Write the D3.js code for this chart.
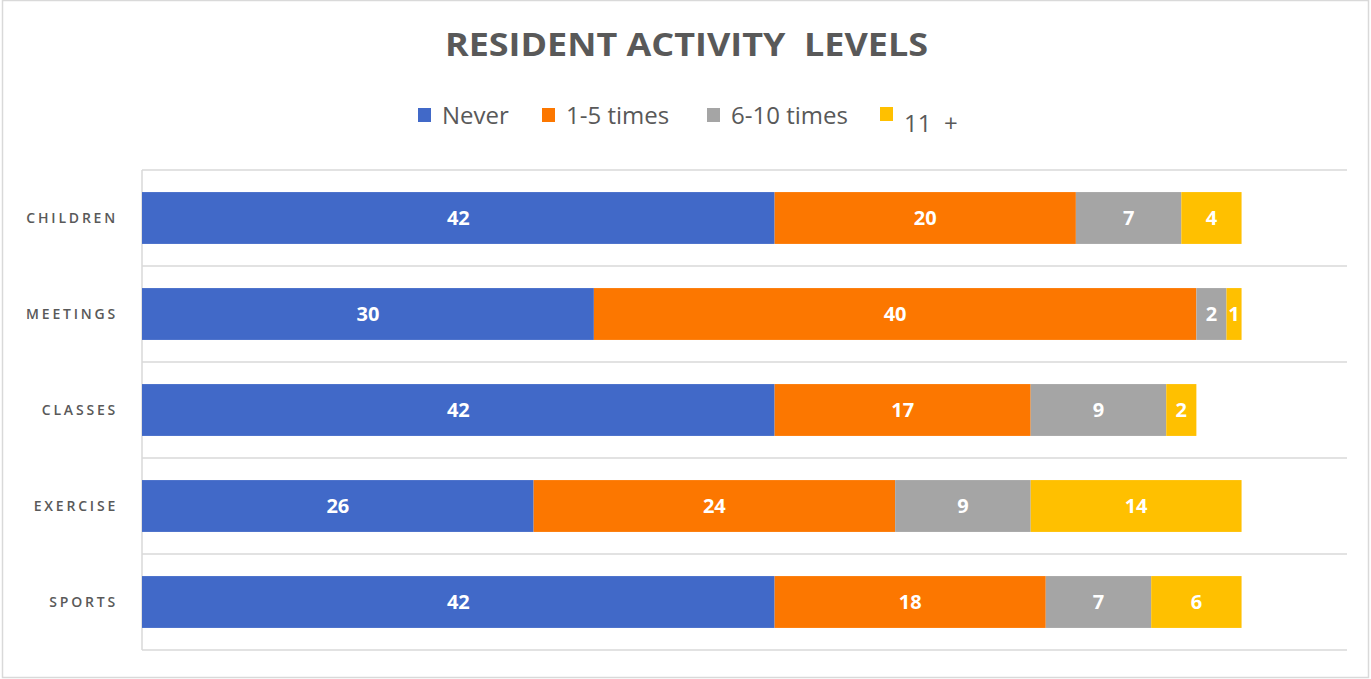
<!DOCTYPE html>
<html>
<head>
<meta charset="utf-8">
<script src="https://cdn.jsdelivr.net/npm/d3@7"></script>
<style>
  html, body { margin: 0; padding: 0; background: #fff; }
  svg { display: block; font-family: "Open Sans", "Noto Sans", sans-serif; }
</style>
</head>
<body>
<svg id="chart" width="1371" height="679"></svg>
<script>
// Resident activity levels, stacked horizontal bars
const categories = ['CHILDREN', 'MEETINGS', 'CLASSES', 'EXERCISE', 'SPORTS'];
const seriesNames = ['Never', '1-5 times', '6-10 times', '11  +'];
const never = [42, 30, 42, 26, 42];
const times1to5 = [20, 40, 17, 24, 18];
const times6to10 = [7, 2, 9, 9, 7];
const times11plus = [4, 1, 2, 14, 6];
const colors = ['#4169c8', '#fc7700', '#a5a5a5', '#ffc000'];

function renderChart() {
  const svg = d3.select('#chart');
  const width = 1371, height = 679;
  const margin = { top: 170, right: 24, bottom: 29, left: 142 };

  // outer chart frame
  svg.append('rect')
    .attr('x', 2.5).attr('y', 0.5)
    .attr('width', width - 5).attr('height', height - 2)
    .attr('fill', '#fff')
    .attr('stroke', '#d9d9d9')
    .attr('stroke-width', 1.5);

  const rows = categories.map((c, i) => ({
    cat: c,
    'Never': never[i],
    '1-5 times': times1to5[i],
    '6-10 times': times6to10[i],
    '11  +': times11plus[i]
  }));
  const stacked = d3.stack().keys(seriesNames)(rows);

  const x = d3.scaleLinear()
    .domain([0, 80])
    .range([margin.left, width - margin.right]);

  const y = d3.scaleBand()
    .domain(categories)
    .range([margin.top, height - margin.bottom])
    .paddingInner(0.46)
    .paddingOuter(0.23);

  const gap = y.step() * y.paddingInner() / 2;

  // horizontal separators between categories
  const lines = categories.map(c => y(c) - gap).concat([y(categories[categories.length - 1]) + y.bandwidth() + gap]);
  svg.append('g')
    .selectAll('line')
    .data(lines)
    .join('line')
    .attr('x1', x(0)).attr('x2', x(80))
    .attr('y1', d => d).attr('y2', d => d)
    .attr('stroke', '#d9d9d9')
    .attr('stroke-width', 1.5);

  // category axis line
  svg.append('line')
    .attr('x1', x(0)).attr('x2', x(0))
    .attr('y1', lines[0]).attr('y2', lines[lines.length - 1])
    .attr('stroke', '#d9d9d9')
    .attr('stroke-width', 1.5);

  // bars
  const layer = svg.append('g')
    .selectAll('g')
    .data(stacked)
    .join('g')
    .attr('fill', (d, i) => colors[i]);

  layer.selectAll('rect')
    .data(d => d)
    .join('rect')
    .attr('x', d => x(d[0]))
    .attr('y', d => y(d.data.cat))
    .attr('width', d => x(d[1]) - x(d[0]))
    .attr('height', y.bandwidth());

  // value labels
  layer.selectAll('text')
    .data(d => d)
    .join('text')
    .attr('x', d => (x(d[0]) + x(d[1])) / 2)
    .attr('y', d => y(d.data.cat) + y.bandwidth() / 2)
    .attr('dy', '0.36em')
    .attr('text-anchor', 'middle')
    .attr('fill', '#fff')
    .attr('font-size', 20)
    .attr('font-weight', 'bold')
    .text(d => d[1] - d[0]);

  // category labels
  svg.append('g')
    .selectAll('text')
    .data(categories)
    .join('text')
    .attr('x', 118)
    .attr('y', d => y(d) + y.bandwidth() / 2)
    .attr('dy', '0.36em')
    .attr('text-anchor', 'end')
    .attr('fill', '#595959')
    .attr('font-size', 14)
    .attr('font-weight', 600)
    .attr('letter-spacing', 2.8)
    .text(d => d);

  // title
  svg.append('text')
    .attr('x', 445)
    .attr('y', 56)
    .attr('fill', '#595959')
    .attr('font-size', 33)
    .attr('font-weight', 'bold')
    .attr('xml:space', 'preserve')
    .style('white-space', 'pre')
    .attr('textLength', 483)
    .attr('lengthAdjust', 'spacingAndGlyphs')
    .text('RESIDENT ACTIVITY  LEVELS');

  // legend
  const legendX = [418, 542, 707, 880];
  const legend = svg.append('g')
    .selectAll('g')
    .data(seriesNames)
    .join('g')
    .attr('transform', (d, i) => `translate(${legendX[i]},0)`);

  legend.append('rect')
    .attr('x', 0)
    .attr('y', (d, i) => i === 3 ? 107 : 108)
    .attr('width', 13).attr('height', 14)
    .attr('fill', (d, i) => colors[i]);

  legend.append('text')
    .attr('x', 24)
    .attr('y', (d, i) => i === 3 ? 132 : 124)
    .attr('fill', '#595959')
    .attr('font-size', 24)
    .attr('xml:space', 'preserve')
    .style('white-space', 'pre')
    .text(d => d);
}

renderChart();
</script>
</body>
</html>
